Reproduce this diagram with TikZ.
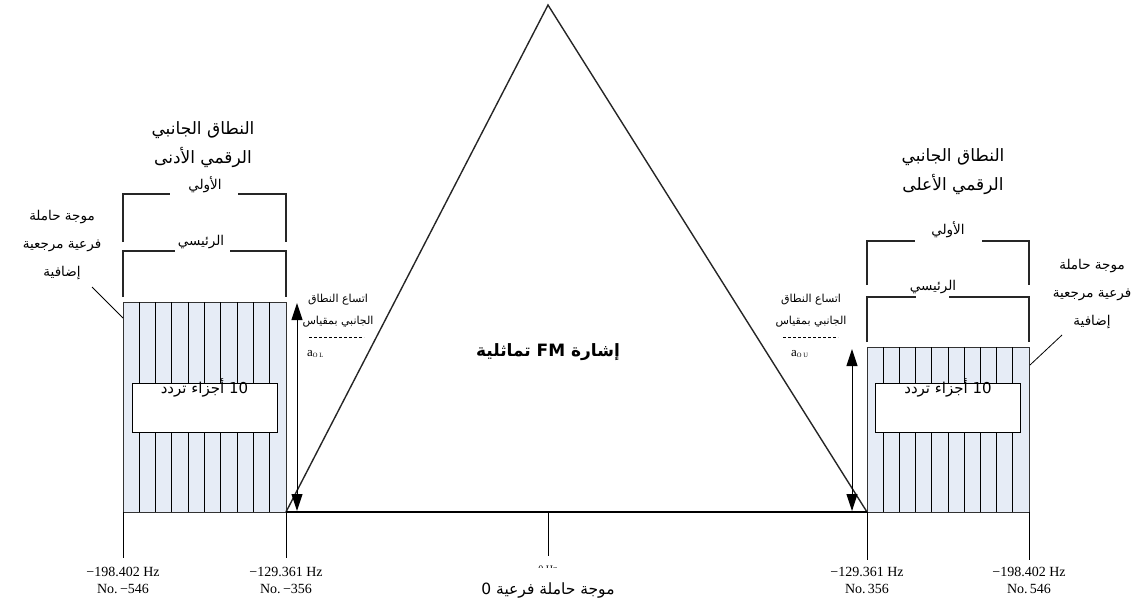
\documentclass[tikz,border=0pt]{standalone}
\usepackage{fontspec}
\setmainfont{Liberation Serif}
\newfontfamily\arabicfont[Script=Arabic]{DejaVu Sans}
\TeXXeTstate=1
\usetikzlibrary{arrows.meta}
\newcommand{\ar}[1]{{\arabicfont\beginR #1\endR}}
\definecolor{bandfill}{RGB}{230,236,246}
\tikzset{
  ln/.style={line width=1.1pt, draw=black!85},
  thin/.style={line width=0.8pt, draw=black},
  band/.style={line width=1pt, draw=black!80, fill=bandfill},
  seg/.style={line width=1pt, draw=black},
  innerbox/.style={line width=1pt, draw=black, fill=white, minimum width=145pt, minimum height=49pt, inner sep=0pt},
  title/.style={font=\fontsize{17}{29}\selectfont, align=center, inner sep=0pt},
  side/.style={font=\fontsize{13.5}{28}\selectfont, align=center, inner sep=0pt},
  brk/.style={font=\fontsize{13.5}{14}\selectfont, inner sep=0pt},
  small/.style={font=\fontsize{11}{22}\selectfont, align=center, inner sep=0pt},
  axis/.style={font=\fontsize{14}{17}\selectfont, align=center, inner sep=0pt},
  dbl/.style={line width=1pt, {Triangle[length=17pt,width=11pt]}-{Triangle[length=17pt,width=11pt]}},
}
\begin{document}
\begin{tikzpicture}[x=1pt,y=-1pt]
\useasboundingbox (0,0) rectangle (1137,606);

% key coordinates
\coordinate (apex) at (548,5);
\coordinate (bl) at (286,512);
\coordinate (br) at (867,512);
\coordinate (c0) at (548,512);

% left band
\draw[band] (123,302) rectangle (286,512);
\foreach \k in {1,...,9} {\draw[seg] ({123+\k*16.3},302) -- ({123+\k*16.3},512);}
\node[innerbox] (lseg) at (204.5,407.5) {};
\node[brk, font=\fontsize{15}{16}\selectfont, below] at ([yshift=4pt]lseg.north) {\ar{\beginL 10\endL{} أجزاء تردد}};

% right band
\draw[band] (867,347) rectangle (1029,512);
\foreach \k in {1,...,9} {\draw[seg] ({867+\k*16.2},347) -- ({867+\k*16.2},512);}
\node[innerbox] (rseg) at (948,407.5) {};
\node[brk, font=\fontsize{15}{16}\selectfont, below] at ([yshift=4pt]rseg.north) {\ar{\beginL 10\endL{} أجزاء تردد}};

% triangle
\draw[ln, line width=1.4pt] (bl) -- (apex) -- (br);
\draw[line width=2pt] (bl) -- (br);
\node[font=\fontsize{17}{18}\selectfont\bfseries, inner sep=0pt] (fm) at (548,352) {\ar{إشارة \beginL FM\endL{} تماثلية}};

% ticks
\draw[thin] (123,512) -- (123,558);
\draw[thin] (286,512) -- (286,558);
\draw[thin] (c0) -- (548,556);
\draw[thin] (867,512) -- (867,560);
\draw[thin] (1029,512) -- (1029,560);

% left brackets
\draw[ln] (123,242) -- (123,194) -- (170,194);
\draw[ln] (238,194) -- (286,194) -- (286,242);
\node[brk] (lprim) at (205,185) {\ar{الأولي}};
\draw[ln] (123,297) -- (123,251) -- (175,251);
\draw[ln] (230,251) -- (286,251) -- (286,297);
\node[brk] (lmain) at (201,242) {\ar{الرئيسي}};

% right brackets
\draw[ln] (867,285) -- (867,241) -- (915,241);
\draw[ln] (982,241) -- (1029,241) -- (1029,285);
\node[brk] (rprim) at (948,230) {\ar{الأولي}};
\draw[ln] (867,342) -- (867,297) -- (916,297);
\draw[ln] (949,297) -- (1029,297) -- (1029,342);
\node[brk] (rmain) at (933,287) {\ar{الرئيسي}};

% titles
\node[title] (ltitle) at (203,145) {\ar{النطاق الجانبي}\\\ar{الرقمي الأدنى}};
\node[title] (rtitle) at (953,172) {\ar{النطاق الجانبي}\\\ar{الرقمي الأعلى}};

% side labels
\node[side] (lside) at (62,245) {\ar{موجة حاملة}\\\ar{فرعية مرجعية}\\\ar{إضافية}};
\node[side] (rside) at (1092,294) {\ar{موجة حاملة}\\\ar{فرعية مرجعية}\\\ar{إضافية}};
\coordinate (lls) at (92,287);
\coordinate (lle) at (123,318);
\coordinate (rls) at (1062,335);
\coordinate (rle) at (1030,365);
\draw[thin] (lls) -- (lle);
\draw[thin] (rls) -- (rle);

% width arrows
\coordinate (la1) at (297,303);
\coordinate (la2) at (297,511);
\draw[dbl] (la1) -- (la2);
\coordinate (ra1) at (852,349);
\coordinate (ra2) at (852,511);
\draw[dbl] (ra1) -- (ra2);

\node[small] (lwid) at (338,311) {\ar{اتساع النطاق}\\\ar{الجانبي بمقياس}};
\draw[thin, dashed, dash pattern=on 3pt off 2pt] (309,337) -- (364,337);
\node[font=\fontsize{13}{13}\selectfont, anchor=west, inner sep=0pt] (laol) at (307,354) {a\raisebox{-1pt}{\fontsize{6.5}{6.5}\selectfont O L}};

\node[small] (rwid) at (811,311) {\ar{اتساع النطاق}\\\ar{الجانبي بمقياس}};
\draw[thin, dashed, dash pattern=on 3pt off 2pt] (783,337) -- (838,337);
\node[font=\fontsize{13}{13}\selectfont, anchor=west, inner sep=0pt] (raou) at (791,354) {a\raisebox{-1pt}{\fontsize{6.5}{6.5}\selectfont O U}};

% axis labels
\node[axis] (t1) at (123,580) {−198.402 Hz\\No.\,−546};
\node[axis] (t2) at (286,580) {−129.361 Hz\\No.\,−356};
\node[axis] (t4) at (867,580) {−129.361 Hz\\No.\,356};
\node[axis] (t5) at (1029,580) {−198.402 Hz\\No.\,546};
\begin{scope}
\clip (520,558) rectangle (580,567);
\node[font=\fontsize{10}{10}\selectfont, inner sep=0pt] (t3) at (548,569) {0 Hz};
\end{scope}
\node[font=\fontsize{15.5}{16}\selectfont, inner sep=0pt] (zero) at (548,590) {\ar{موجة حاملة فرعية \beginL 0\endL}};
\end{tikzpicture}
\end{document}
